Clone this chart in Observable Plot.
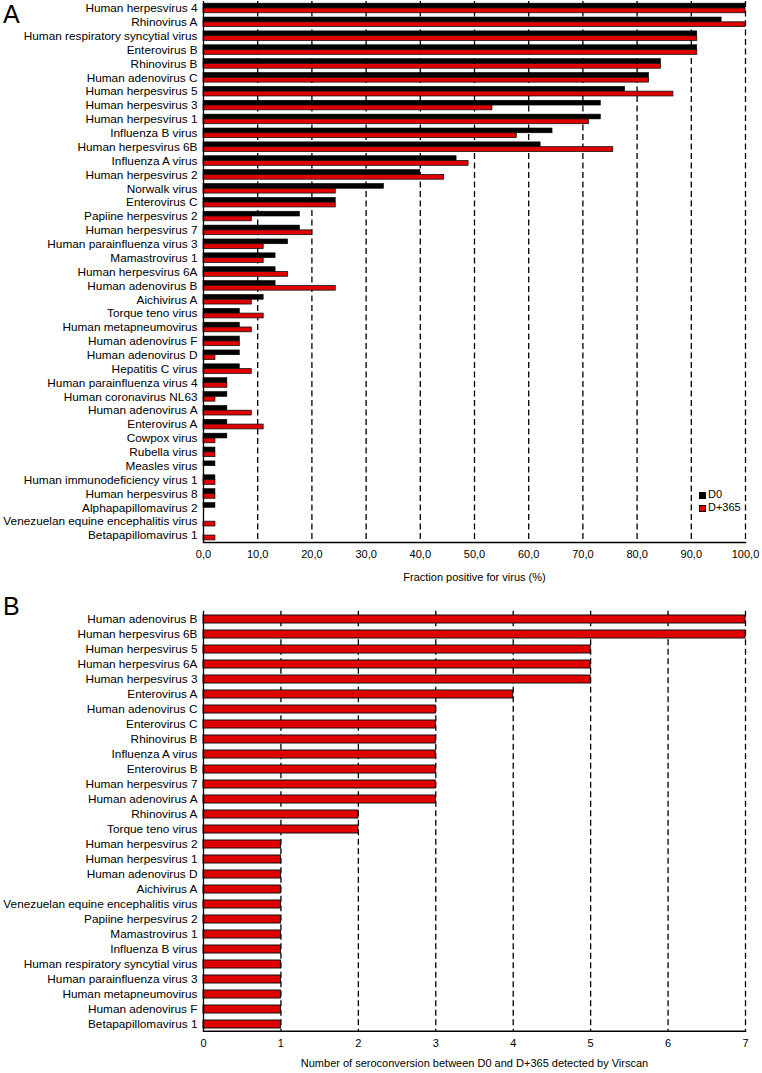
<!DOCTYPE html>
<html><head><meta charset="utf-8">
<script src="https://cdn.jsdelivr.net/npm/d3@7"></script>
<script src="https://cdn.jsdelivr.net/npm/@observablehq/plot@0.6"></script>
<style>
body{margin:0;background:#fff;}
#wrap{position:relative;width:762px;height:1073px;font-family:"Liberation Sans",Arial,sans-serif;color:#000;background:#fff;}
.panel{position:absolute;left:0;}
.letter{position:absolute;left:3px;font-size:25px;line-height:1;font-weight:normal;}
.legend{position:absolute;left:699px;top:488px;font-size:11px;line-height:13px;}
.sw{display:inline-block;width:7px;height:7px;margin-right:2px;box-sizing:border-box;vertical-align:-0.5px;}
</style></head><body>
<div id="wrap">
  <div class="letter" style="top:2px">A</div>
  <div class="letter" style="top:594px">B</div>
  <div id="pA" class="panel" style="top:0px"></div>
  <div id="pB" class="panel" style="top:600px"></div>
  <div class="legend">
    <div><span class="sw" style="background:#000"></span>D0</div>
    <div><span class="sw" style="background:#e00000;border:1px solid #000"></span>D+365</div>
  </div>
</div>
<script>
// ---- Panel A data ----
const virusesA = [
  "Human herpesvirus 4","Rhinovirus A","Human respiratory syncytial virus","Enterovirus B","Rhinovirus B",
  "Human adenovirus C","Human herpesvirus 5","Human herpesvirus 3","Human herpesvirus 1","Influenza B virus",
  "Human herpesvirus 6B","Influenza A virus","Human herpesvirus 2","Norwalk virus","Enterovirus C",
  "Papiine herpesvirus 2","Human herpesvirus 7","Human parainfluenza virus 3","Mamastrovirus 1","Human herpesvirus 6A",
  "Human adenovirus B","Aichivirus A","Torque teno virus","Human metapneumovirus","Human adenovirus F",
  "Human adenovirus D","Hepatitis C virus","Human parainfluenza virus 4","Human coronavirus NL63","Human adenovirus A",
  "Enterovirus A","Cowpox virus","Rubella virus","Measles virus","Human immunodeficiency virus 1",
  "Human herpesvirus 8","Alphapapillomavirus 2","Venezuelan equine encephalitis virus","Betapapillomavirus 1"
];
const d0 = [
  100,95.6,91.1,91.1,84.4,
  82.2,77.8,73.3,73.3,64.4,
  62.2,46.7,40.0,33.3,24.4,
  17.8,17.8,15.6,13.3,13.3,
  13.3,11.1,6.7,6.7,6.7,
  6.7,6.7,4.4,4.4,4.4,
  4.4,4.4,2.2,2.2,2.2,
  2.2,2.2,0,0
];
const d365 = [
  100,100,91.1,91.1,84.4,
  82.2,86.7,53.3,71.1,57.8,
  75.6,48.9,44.4,24.4,24.4,
  8.9,20.0,11.1,11.1,15.6,
  24.4,8.9,11.1,8.9,6.7,
  2.2,8.9,4.4,2.2,8.9,
  11.1,2.2,2.2,0,2.2,
  2.2,0,2.2,2.2
];
const ticksA = [0,10,20,30,40,50,60,70,80,90,100];
const labelA = "Fraction positive for virus (%)";

// ---- Panel B data ----
const virusesB = [
  "Human adenovirus B","Human herpesvirus 6B","Human herpesvirus 5","Human herpesvirus 6A","Human herpesvirus 3",
  "Enterovirus A","Human adenovirus C","Enterovirus C","Rhinovirus B","Influenza A virus",
  "Enterovirus B","Human herpesvirus 7","Human adenovirus A","Rhinovirus A","Torque teno virus",
  "Human herpesvirus 2","Human herpesvirus 1","Human adenovirus D","Aichivirus A","Venezuelan equine encephalitis virus",
  "Papiine herpesvirus 2","Mamastrovirus 1","Influenza B virus","Human respiratory syncytial virus","Human parainfluenza virus 3",
  "Human metapneumovirus","Human adenovirus F","Betapapillomavirus 1"
];
const seroconv = [
  7,7,5,5,5,
  4,3,3,3,3,
  3,3,3,2,2,
  1,1,1,1,1,
  1,1,1,1,1,
  1,1,1
];
const ticksB = [0,1,2,3,4,5,6,7];
const labelB = "Number of seroconversion between D0 and D+365 detected by Virscan";

const FONT = '"Liberation Sans", Arial, sans-serif';
const RED = "#e00000";
const DASH = "6,3.5";
const YFS = 11.8, XFS = 11;

// ---- Panel A ----
const dataA = virusesA.map((v,i)=>({virus:v, d0:d0[i], d365:d365[i]}));
const hA = 590, mtA = 1, mbA = 48;
const padA = 0.31;
const stepA = (hA - mtA - mbA) / virusesA.length;
const halfA = stepA * (1 - padA) / 2;

const plotA = Plot.plot({
  width: 762, height: hA,
  marginLeft: 203, marginRight: 17, marginTop: mtA, marginBottom: mbA,
  style: {fontFamily: FONT, fontSize: XFS + "px", color: "#000", background: "transparent"},
  x: {domain: [0,100]},
  y: {domain: virusesA, paddingInner: padA, paddingOuter: padA/2},
  marks: [
    Plot.ruleX(ticksA.slice(1), {stroke: "#000", strokeWidth: 1.3, strokeDasharray: DASH}),
    Plot.barX(dataA.filter(d=>d.d0>0), {x: "d0", y: "virus", fill: "#000", stroke: "#000", strokeWidth: 0.6, insetBottom: halfA}),
    Plot.barX(dataA.filter(d=>d.d365>0), {x: "d365", y: "virus", fill: RED, stroke: "#111", strokeWidth: 0.8, insetTop: halfA}),
    Plot.ruleX([0], {stroke: "#000", strokeWidth: 1.3}),
    Plot.frame({anchor: "bottom", stroke: "#000", strokeWidth: 1.5}),
    Plot.axisX({ticks: ticksA, tickSize: 0, tickPadding: 8, fontSize: XFS, tickFormat: d => d.toFixed(1).replace(".", ","),
      label: labelA, labelAnchor: "center", labelOffset: 38, labelArrow: "none"}),
    Plot.axisY({tickSize: 0, tickPadding: 6, fontSize: YFS, label: null})
  ]
});
document.getElementById("pA").appendChild(plotA);

// ---- Panel B ----
const dataB = virusesB.map((v,i)=>({virus:v, n:seroconv[i]}));
const hB = 473, mtB = 10.8, mbB = 42.2;
const padB = 0.5;
const plotB = Plot.plot({
  width: 762, height: hB,
  marginLeft: 203, marginRight: 17, marginTop: mtB, marginBottom: mbB,
  style: {fontFamily: FONT, fontSize: XFS + "px", color: "#000", background: "transparent"},
  x: {domain: [0,7]},
  y: {domain: virusesB, paddingInner: padB, paddingOuter: padB/2},
  marks: [
    Plot.ruleX(ticksB.slice(1), {stroke: "#000", strokeWidth: 1.3, strokeDasharray: DASH}),
    Plot.barX(dataB, {x: "n", y: "virus", fill: RED, stroke: "#111", strokeWidth: 1}),
    Plot.ruleX([0], {stroke: "#000", strokeWidth: 1.3}),
    Plot.frame({anchor: "bottom", stroke: "#000", strokeWidth: 1.5}),
    Plot.axisX({ticks: ticksB, tickSize: 0, tickPadding: 8, fontSize: XFS, tickFormat: d => String(d),
      label: labelB, labelAnchor: "center", labelOffset: 36, labelArrow: "none"}),
    Plot.axisY({tickSize: 0, tickPadding: 6, fontSize: YFS, label: null})
  ]
});
document.getElementById("pB").appendChild(plotB);
</script>
</body></html>
